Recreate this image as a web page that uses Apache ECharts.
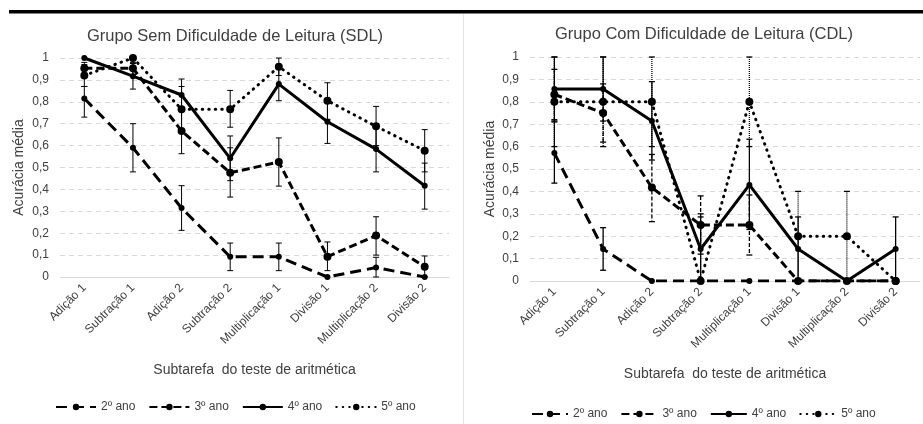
<!DOCTYPE html>
<html>
<head>
<meta charset="utf-8">
<title>Acurácia média por subtarefa</title>
<script src="https://cdn.jsdelivr.net/npm/echarts@6/dist/echarts.min.js"></script>
<style>
  html, body { margin: 0; padding: 0; background: #fff; }
  #chart { width: 923px; height: 424px; }
</style>
</head>
<body>
<div id="chart"></div>
<script>
// dados
var categorias = ['Adição 1', 'Subtração 1', 'Adição 2', 'Subtração 2', 'Multiplicação 1', 'Divisão 1', 'Multiplicação 2', 'Divisão 2'];
var anos = ['2º ano', '3º ano', '4º ano', '5º ano'];
var yTicks = [0, 0.1, 0.2, 0.3, 0.4, 0.5, 0.6, 0.7, 0.8, 0.9, 1];

// Grupo SDL - médias
var sdl2 = [0.815, 0.59, 0.315, 0.092, 0.092, 0, 0.043, 0];
var sdl3 = [0.953, 0.953, 0.667, 0.476, 0.525, 0.093, 0.189, 0.047];
var sdl4 = [1.0, 0.917, 0.831, 0.542, 0.881, 0.709, 0.584, 0.417];
var sdl5 = [0.92, 1.0, 0.766, 0.766, 0.96, 0.805, 0.688, 0.577];
// Grupo SDL - barras de erro [min, max]
var sdlErr2 = [[0.73, 0.87], [0.48, 0.70], [0.213, 0.417], [0.029, 0.155], [0.029, 0.155], null, [0, 0.09], null];
var sdlErr3 = [[0.925, 0.98], [0.925, 0.98], [0.563, 0.77], [0.365, 0.59], [0.415, 0.635], [0.029, 0.16], [0.10, 0.275], [0, 0.096]];
var sdlErr4 = [null, [0.858, 0.975], [0.76, 0.904], [0.44, 0.644], [0.805, 0.955], [0.61, 0.81], [0.48, 0.69], [0.31, 0.52]];
var sdlErr5 = [[0.87, 0.97], null, [0.66, 0.87], [0.684, 0.852], [0.92, 1.0], [0.72, 0.887], [0.60, 0.779], [0.48, 0.673]];

// Grupo CDL - médias
var cdl2 = [0.571, 0.143, 0, 0, 0, 0, 0, 0];
var cdl3 = [0.833, 0.75, 0.417, 0.25, 0.25, 0, 0, 0];
var cdl4 = [0.857, 0.857, 0.714, 0.143, 0.429, 0.143, 0, 0.143];
var cdl5 = [0.8, 0.8, 0.8, 0, 0.8, 0.2, 0.2, 0];
// Grupo CDL - barras de erro [min, max]
var cdlErr2 = [[0.437, 0.71], [0.048, 0.238], null, null, null, null, null, null];
var cdlErr3 = [[0.72, 0.945], [0.62, 0.88], [0.265, 0.565], [0.12, 0.38], [0.116, 0.384], null, null, null];
var cdlErr4 = [[0.714, 1.0], [0.714, 1.0], [0.54, 0.89], [0, 0.286], [0.23, 0.633], [0, 0.286], null, [0, 0.286]];
var cdlErr5 = [[0.6, 1.0], [0.6, 1.0], [0.6, 1.0], [0, 0.3], [0.6, 1.0], [0, 0.4], [0, 0.4], null];

var chart = echarts.init(document.getElementById('chart'));
var fonte = 'Liberation Sans, Arial, sans-serif';
var cinza = '#404040';

// estilos de cada ano (linha)
var estilos = [
  { type: [11, 6], size: 6 },
  { type: [8, 4], size: 8 },
  { type: 'solid', size: 6 },
  { type: [0.5, 6], size: 8 }
];

function toErrData(arr) {
  var out = [];
  arr.forEach(function (e, i) {
    if (e) out.push([i, e[0], e[1]]);
  });
  return out;
}

function errSeries(name, idx, arr, dash, lw) {
  return {
    name: name,
    type: 'custom',
    xAxisIndex: idx,
    yAxisIndex: idx,
    z: 1,
    silent: true,
    data: toErrData(arr),
    renderItem: function (params, api) {
      var top = api.coord([api.value(0), api.value(2)]);
      var bot = api.coord([api.value(0), api.value(1)]);
      var w = 3;
      var st = { stroke: '#000', lineWidth: lw, lineDash: dash };
      return {
        type: 'group',
        children: [
          { type: 'line', shape: { x1: top[0], y1: top[1], x2: bot[0], y2: bot[1] }, style: st },
          { type: 'line', shape: { x1: top[0] - w, y1: top[1], x2: top[0] + w, y2: top[1] }, style: { stroke: '#000', lineWidth: lw } },
          { type: 'line', shape: { x1: bot[0] - w, y1: bot[1], x2: bot[0] + w, y2: bot[1] }, style: { stroke: '#000', lineWidth: lw } }
        ]
      };
    }
  };
}

function lineSeries(k, idx, data) {
  return {
    name: anos[k],
    type: 'line',
    xAxisIndex: idx,
    yAxisIndex: idx,
    z: 3,
    data: data,
    symbol: 'circle',
    symbolSize: estilos[k].size,
    itemStyle: { color: '#000' },
    lineStyle: { color: '#000', width: 3, type: estilos[k].type, cap: k === 3 ? 'round' : 'butt' }
  };
}

function fmtY(v) {
  return (Math.round(v * 10) / 10).toString().replace('.', ',');
}

function xAxisCfg(idx) {
  return {
    type: 'category',
    gridIndex: idx,
    data: categorias,
    name: 'Subtarefa  do teste de aritmética',
    nameLocation: 'middle',
    nameGap: 86,
    nameTextStyle: { color: cinza, fontSize: 14, fontFamily: fonte },
    axisLine: { lineStyle: { color: '#d9d9d9', width: 1 } },
    axisTick: { show: false },
    axisLabel: { interval: 0, rotate: 45, color: cinza, fontSize: 12, fontFamily: fonte, margin: 9 }
  };
}

function yAxisCfg(idx, gap) {
  return {
    type: 'value',
    gridIndex: idx,
    min: yTicks[0],
    max: yTicks[yTicks.length - 1],
    interval: 0.1,
    name: 'Acurácia média',
    nameLocation: 'middle',
    nameGap: gap,
    nameTextStyle: { color: cinza, fontSize: 14, fontFamily: fonte },
    axisLine: { show: false },
    axisTick: { show: false },
    axisLabel: { color: cinza, fontSize: 12, fontFamily: fonte, margin: 11, formatter: fmtY },
    splitLine: { lineStyle: { color: '#d9d9d9', type: [5, 4] } }
  };
}

var series = [
  errSeries('e-sdl2', 0, sdlErr2, null, 1),
  errSeries('e-sdl3', 0, sdlErr3, null, 1),
  errSeries('e-sdl4', 0, sdlErr4, null, 1),
  errSeries('e-sdl5', 0, sdlErr5, null, 1),
  errSeries('e-cdl2', 1, cdlErr2, null, 1.3),
  errSeries('e-cdl3', 1, cdlErr3, [4, 2], 1.3),
  errSeries('e-cdl4', 1, cdlErr4, null, 1.3),
  errSeries('e-cdl5', 1, cdlErr5, [1, 1], 1.3),
  lineSeries(0, 0, sdl2),
  lineSeries(1, 0, sdl3),
  lineSeries(2, 0, sdl4),
  lineSeries(3, 0, sdl5),
  lineSeries(0, 1, cdl2),
  lineSeries(1, 1, cdl3),
  lineSeries(2, 1, cdl4),
  lineSeries(3, 1, cdl5)
];

var legendBase = {
  data: anos,
  orient: 'horizontal',
  itemHeight: 8,
  selectedMode: false,
  textStyle: { color: cinza, fontSize: 12, fontFamily: fonte }
};

var option = {
  animation: false,
  backgroundColor: '#fff',
  title: [
    { text: 'Grupo Sem Dificuldade de Leitura (SDL)', left: 230, top: 23, textAlign: 'center',
      textStyle: { color: cinza, fontSize: 16.5, fontWeight: 'normal', fontFamily: fonte } },
    { text: 'Grupo Com Dificuldade de Leitura (CDL)', left: 699, top: 21, textAlign: 'center',
      textStyle: { color: cinza, fontSize: 16.5, fontWeight: 'normal', fontFamily: fonte } }
  ],
  grid: [
    { left: 60, top: 58, width: 389, height: 219 },
    { left: 530, top: 57, width: 390, height: 224 }
  ],
  xAxis: [xAxisCfg(0), xAxisCfg(1)],
  yAxis: [yAxisCfg(0, 34), yAxisCfg(1, 33)],
  legend: [
    Object.assign({}, legendBase, { left: 50, top: 396, itemWidth: 40, itemGap: 13 }),
    Object.assign({}, legendBase, { left: 526, top: 403, itemWidth: 36, itemGap: 13 })
  ],
  graphic: [
    { type: 'rect', left: 9, top: 10, shape: { width: 914, height: 3.5 }, style: { fill: '#000' } },
    { type: 'line', shape: { x1: 463.5, y1: 14, x2: 463.5, y2: 424 }, style: { stroke: '#e3e3e3', lineWidth: 1 } }
  ],
  series: series
};

chart.setOption(option);
</script>
</body>
</html>
